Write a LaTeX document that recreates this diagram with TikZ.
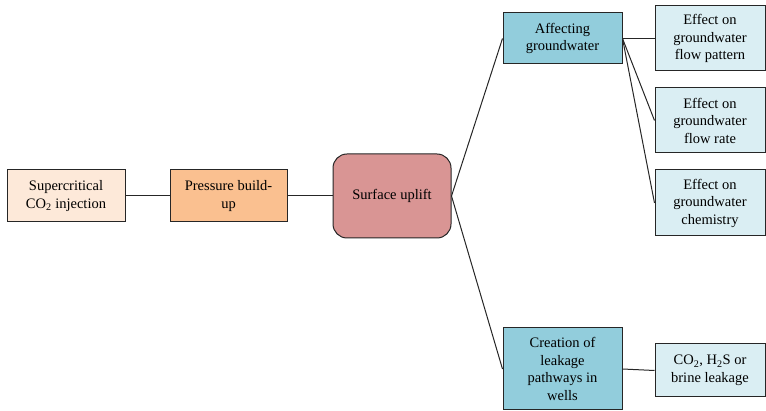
\documentclass[tikz,border=0pt]{standalone}
\usepackage{fontspec}
\setmainfont{Liberation Serif}
\begin{document}
\begin{tikzpicture}[x=1pt,y=-1pt,
  box/.style={draw=black!85,line width=1pt,align=center,inner sep=2pt,
    font=\fontsize{14.5}{17.5}\selectfont},
  link/.style={draw=black!85,line width=1pt}]
\useasboundingbox (0,0) rectangle (766,411);
\definecolor{peach}{HTML}{FDE9D9}
\definecolor{orng}{HTML}{FAC090}
\definecolor{rose}{HTML}{D99594}
\definecolor{teal}{HTML}{92CDDC}
\definecolor{pale}{HTML}{DAEEF3}

% main chain
\node[box,fill=peach,minimum width=118pt,minimum height=52pt] (inj) at (66,196)
  {Supercritical\\CO\textsubscript{2} injection};
\node[box,fill=orng,minimum width=117pt,minimum height=52pt] (press) at (228.5,196)
  {Pressure build-\\up};
\node[box,fill=rose,rounded corners=14pt,minimum width=118pt,minimum height=84pt] (upl) at (392,196)
  {Surface uplift};

% branches
\node[box,fill=teal,minimum width=119pt,minimum height=51pt] (gw) at (562.5,38.5)
  {Affecting\\groundwater};
\node[box,fill=teal,minimum width=119pt,minimum height=82pt] (leak) at (562.5,369)
  {Creation of\\leakage\\pathways in\\wells};

% effects
\node[box,fill=pale,minimum width=110pt,minimum height=65pt] (pat) at (710,38.5)
  {Effect on\\groundwater\\flow pattern};
\node[box,fill=pale,minimum width=110pt,minimum height=65pt] (rate) at (710,120.5)
  {Effect on\\groundwater\\flow rate};
\node[box,fill=pale,minimum width=110pt,minimum height=66pt] (chem) at (710,203)
  {Effect on\\groundwater\\chemistry};
\node[box,fill=pale,minimum width=110pt,minimum height=53pt] (brine) at (710,370.5)
  {CO\textsubscript{2}, H\textsubscript{2}S or\\brine leakage};

% connectors
\draw[link] (inj.east) -- (press.west);
\draw[link] (press.east) -- (upl.west);
\draw[link] (upl.east) -- (gw.west);
\draw[link] (upl.east) -- (leak.west);
\draw[link] (gw.east) -- (pat.west);
\draw[link] (gw.east) -- (rate.west);
\draw[link] (gw.east) -- (chem.west);
\draw[link] (leak.east) -- (brine.west);
\end{tikzpicture}
\end{document}
